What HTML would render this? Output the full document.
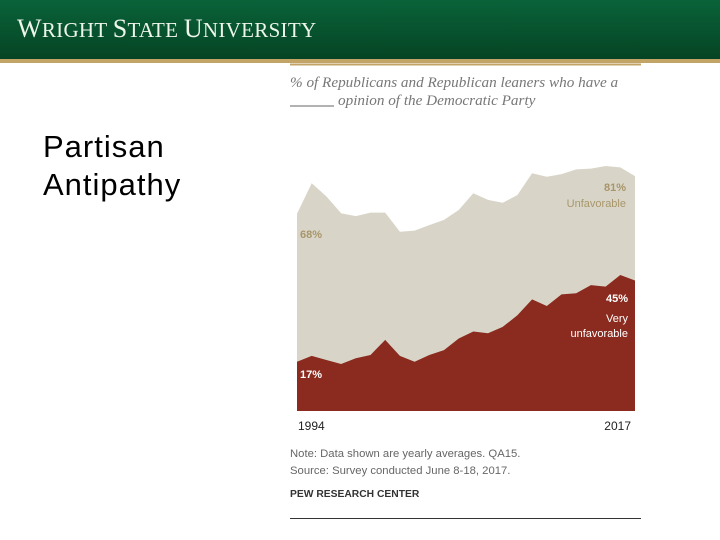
<!DOCTYPE html>
<html><head><meta charset="utf-8"><style>
body{margin:0;width:720px;height:540px;overflow:hidden;background:#fff;font-family:"Liberation Sans",sans-serif;position:relative}
#hdr{position:absolute;left:0;top:0;width:720px;height:59px;background:linear-gradient(#0a633a,#054424)}
#gold{position:absolute;left:0;top:59px;width:720px;height:4px;background:#c2a466}
#logo{position:absolute;left:17px;top:14px;color:#eef5ea;font-family:"Liberation Serif",serif;font-size:21px;letter-spacing:0.3px}
#ttl{position:absolute;left:43px;top:128px;font-size:31px;line-height:38px;color:#000;letter-spacing:1px}
</style></head><body>
<div id="hdr"></div>
<div id="gold"></div>
<div id="logo"><span style="font-size:26px">W</span>RIGHT <span style="font-size:26px">S</span>TATE <span style="font-size:26px">U</span>NIVERSITY</div>
<div id="ttl">Partisan<br>Antipathy</div>
<svg id="chart" width="720" height="540" style="position:absolute;left:0;top:0">
<line x1="290" y1="64.5" x2="641" y2="64.5" stroke="#c2a466" stroke-width="2"/>
<text x="290" y="87" font-family="Liberation Serif,serif" font-style="italic" font-size="15.2" fill="#777">% of Republicans and Republican leaners who have a</text>
<line x1="290" y1="106" x2="334" y2="106" stroke="#666" stroke-width="1"/>
<text x="338" y="105" font-family="Liberation Serif,serif" font-style="italic" font-size="15.2" fill="#777">opinion of the Democratic Party</text>
<g id="areas"></g>
<text x="300" y="238" font-size="11" font-weight="bold" fill="#a8966a">68%</text>
<text x="626" y="191" text-anchor="end" font-size="11" font-weight="bold" fill="#a8966a">81%</text>
<text x="626" y="207" text-anchor="end" font-size="11" fill="#a8966a">Unfavorable</text>
<text x="300" y="378" font-size="11" font-weight="bold" fill="#fff">17%</text>
<text x="628" y="302" text-anchor="end" font-size="11" font-weight="bold" fill="#fff">45%</text>
<text x="628" y="322" text-anchor="end" font-size="11" fill="#fff">Very</text>
<text x="628" y="337" text-anchor="end" font-size="11" fill="#fff">unfavorable</text>
<g id="xt"></g>
<text x="290" y="457" font-size="11.3" fill="#666">Note: Data shown are yearly averages. QA15.</text>
<text x="290" y="474" font-size="11.3" fill="#666">Source: Survey conducted June 8-18, 2017.</text>
<text x="290" y="497" font-size="10.3" font-weight="bold" fill="#333">PEW RESEARCH CENTER</text>
<line x1="290" y1="518.5" x2="641" y2="518.5" stroke="#333" stroke-width="1"/>
</svg>
<script>
const years=[1994,1995,1996,1997,1998,1999,2000,2001,2002,2003,2004,2005,2006,2007,2008,2009,2010,2011,2012,2013,2014,2015,2016,2017];
const unfavorable=[68,78.5,74,68.2,67.2,68.4,68.4,61.8,62.2,64.1,65.9,69.3,75.1,72.8,71.8,74.5,82,80.8,81.7,83.3,83.6,84.5,84,81];
const veryUnfavorable=[17,19,17.6,16.2,18.2,19.3,24.5,19,17,19.3,21,25,27.4,26.8,29,33,38.5,36.2,40.2,40.6,43.4,42.9,46.9,45];
const tickLabels=["1994","2017"];
const X0=297,X1=635,Y0=411,PX=2.9;
const xs=y=>X0+(y-years[0])/(years[years.length-1]-years[0])*(X1-X0);
const ys=v=>Y0-v*PX;
const NS="http://www.w3.org/2000/svg";
function area(vals,fill,name){
 let d="M"+xs(years[0])+","+Y0;
 years.forEach((y,i)=>{d+=" L"+xs(y).toFixed(1)+","+ys(vals[i]).toFixed(1);});
 d+=" L"+xs(years[years.length-1])+","+Y0+" Z";
 const p=document.createElementNS(NS,"path");
 p.setAttribute("d",d);p.setAttribute("fill",fill);
 
 
 document.getElementById("areas").appendChild(p);
}
area(unfavorable,"#d8d5c8","area-unfavorable");
area(veryUnfavorable,"#8b2a1e","area-very-unfavorable");
tickLabels.forEach((t,i)=>{
 const el=document.createElementNS(NS,"text");
 el.setAttribute("x",i==0?xs(+t)+1:xs(+t)-4);
 el.setAttribute("y",430);
 el.setAttribute("font-size","12");
 el.setAttribute("fill","#222");
 el.setAttribute("text-anchor",i==0?"start":"end");
 el.textContent=t;
 
 
 document.getElementById("xt").appendChild(el);
});
</script>
</body></html>
